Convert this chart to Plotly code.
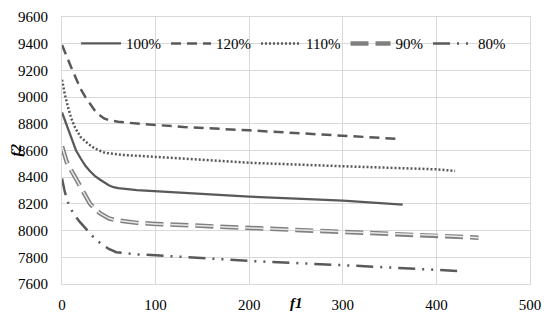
import plotly.graph_objects as go

# ---- data ----
x100 = [0, 5, 10, 15, 20, 25, 30, 35, 40, 45, 50, 55, 60, 80, 100, 150, 200, 250, 300, 364]
y100 = [8885, 8790, 8690, 8600, 8540, 8485, 8445, 8410, 8385, 8360, 8340, 8325, 8318, 8303, 8294, 8276, 8254, 8240, 8224, 8195]

x120 = [0, 5, 10, 15, 20, 25, 30, 35, 40, 45, 50, 60, 80, 100, 130, 200, 250, 300, 357]
y120 = [9390, 9300, 9220, 9140, 9060, 9000, 8945, 8900, 8865, 8840, 8828, 8815, 8802, 8793, 8776, 8751, 8732, 8711, 8688]

x110 = [0, 3, 7, 10, 14, 20, 28, 35, 46, 55, 63, 100, 150, 200, 300, 400, 420]
y110 = [9130, 9020, 8910, 8840, 8770, 8700, 8650, 8615, 8582, 8572, 8568, 8552, 8528, 8508, 8482, 8459, 8447]

x90 = [0, 5, 10, 15, 20, 25, 30, 40, 50, 56, 80, 100, 150, 200, 300, 400, 445]
y90 = [8630, 8515, 8450, 8385, 8320, 8255, 8200, 8133, 8092, 8080, 8058, 8050, 8035, 8017, 7991, 7965, 7947]

x80 = [0, 3, 7, 12, 19, 28, 35, 42, 50, 58, 80, 100, 150, 200, 300, 400, 425]
y80 = [8390, 8290, 8200, 8130, 8065, 7990, 7940, 7900, 7862, 7838, 7822, 7815, 7795, 7773, 7741, 7708, 7697]

x_ticks = [0, 100, 200, 300, 400, 500]
y_ticks = [7600, 7800, 8000, 8200, 8400, 8600, 8800, 9000, 9200, 9400, 9600]

DARK = "#595959"
FONT = "Liberation Serif"
FS = 15

fig = go.Figure()
fig.add_trace(go.Scatter(x=x100, y=y100, mode="lines", name="100%",
                         line=dict(color=DARK, width=2.25)))
fig.add_trace(go.Scatter(x=x120, y=y120, mode="lines", name="120%",
                         line=dict(color=DARK, width=2.5, dash="10px,6px")))
fig.add_trace(go.Scatter(x=x110, y=y110, mode="lines", name="110%",
                         line=dict(color=DARK, width=2.5, dash="2px,2px")))
fig.add_trace(go.Scatter(x=x90, y=y90, mode="lines", name="90%",
                         line=dict(color="#808080", width=4.5, dash="18px,7px")))
fig.add_trace(go.Scatter(x=x90, y=y90, mode="lines", name="90%", showlegend=False,
                         hoverinfo="skip",
                         line=dict(color="#e8e8e8", width=1.5, dash="18px,7px")))
fig.add_trace(go.Scatter(x=x80, y=y80, mode="lines", name="80%",
                         line=dict(color=DARK, width=2.5, dash="17px,7px,2px,7px,2px,7px")))

GRID = "#d9d9d9"
fig.update_xaxes(range=[0, 500], tickvals=x_ticks, showgrid=True, gridcolor=GRID, gridwidth=1,
                 zeroline=False, showline=True, linecolor=GRID, linewidth=1, mirror=True,
                 ticks="", ticklabelstandoff=7, tickfont=dict(family=FONT, size=FS, color="#000"))
fig.update_yaxes(range=[7600, 9600], tickvals=y_ticks, showgrid=True, gridcolor=GRID, gridwidth=1,
                 zeroline=False, showline=True, linecolor=GRID, linewidth=1, mirror=True,
                 ticks="", ticklabelstandoff=10, tickfont=dict(family=FONT, size=FS, color="#000"))

fig.add_annotation(text="<b><i>f1</i></b>", xref="paper", yref="paper", x=0.5, y=0,
                   xanchor="center", yanchor="middle", yshift=-19, showarrow=False,
                   font=dict(family=FONT, size=FS, color="#000"))
fig.add_annotation(text="<b><i>f2</i></b>", xref="paper", yref="paper", x=0, y=0.5,
                   xanchor="center", yanchor="middle", xshift=-47, textangle=-90,
                   showarrow=False, font=dict(family=FONT, size=FS, color="#000"))

fig.update_layout(
    width=550, height=322,
    margin=dict(l=62, r=15, t=9, b=29),
    plot_bgcolor="white", paper_bgcolor="white",
    font=dict(family=FONT, size=FS, color="#000"),
    legend=dict(orientation="h", x=0.03, y=0.90, xanchor="left", yanchor="middle",
                bgcolor="rgba(0,0,0,0)", font=dict(family=FONT, size=FS),
                traceorder="normal", itemwidth=40),
    showlegend=True,
)

fig.write_html("out.html", config={"displayModeBar": False},
               post_script="document.body.style.margin='0';")
